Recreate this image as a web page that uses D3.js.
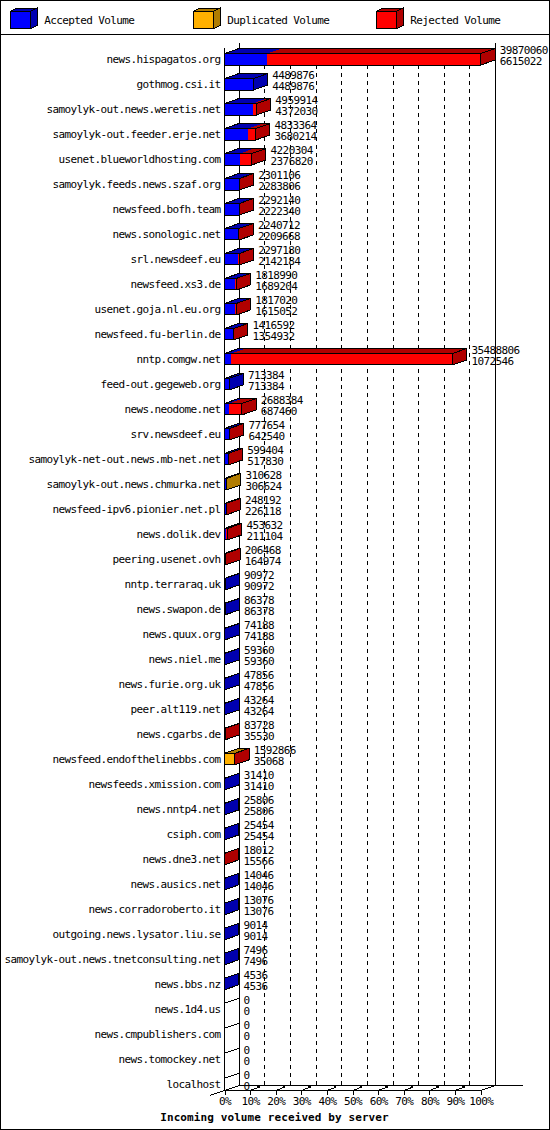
<!DOCTYPE html>
<html>
<head>
<meta charset="utf-8">
<script src="https://cdn.jsdelivr.net/npm/d3@7"></script>
<style>
  html, body { margin: 0; padding: 0; background: #fff; }
  svg { display: block; }
  text { font-family: "DejaVu Sans Mono", monospace; font-size: 11px; letter-spacing: -0.62px; fill: #000; }
</style>
</head>
<body>
<div id="chart"></div>
<script>
const hosts = [
  "news.hispagatos.org", "gothmog.csi.it", "samoylyk-out.news.weretis.net",
  "samoylyk-out.feeder.erje.net", "usenet.blueworldhosting.com", "samoylyk.feeds.news.szaf.org",
  "newsfeed.bofh.team", "news.sonologic.net", "srl.newsdeef.eu", "newsfeed.xs3.de",
  "usenet.goja.nl.eu.org", "newsfeed.fu-berlin.de", "nntp.comgw.net", "feed-out.gegeweb.org",
  "news.neodome.net", "srv.newsdeef.eu", "samoylyk-net-out.news.mb-net.net",
  "samoylyk-out.news.chmurka.net", "newsfeed-ipv6.pionier.net.pl", "news.dolik.dev",
  "peering.usenet.ovh", "nntp.terraraq.uk", "news.swapon.de", "news.quux.org", "news.niel.me",
  "news.furie.org.uk", "peer.alt119.net", "news.cgarbs.de", "newsfeed.endofthelinebbs.com",
  "newsfeeds.xmission.com", "news.nntp4.net", "csiph.com", "news.dne3.net", "news.ausics.net",
  "news.corradoroberto.it", "outgoing.news.lysator.liu.se", "samoylyk-out.news.tnetconsulting.net",
  "news.bbs.nz", "news.1d4.us", "news.cmpublishers.com", "news.tomockey.net", "localhost"
];

// top number next to each bar
const totalVolume = [
  39870060, 4489876, 4959914, 4833364, 4220304, 2301106, 2292140, 2240712, 2297180, 1818990,
  1817020, 1416592, 35488806, 713384, 2688384, 777654, 599404, 310628, 248192, 453632,
  206468, 90972, 86378, 74188, 59360, 47856, 43264, 83728, 1592866, 31410,
  25806, 25454, 18012, 14046, 13076, 9014, 7496, 4536, 0, 0, 0, 0
];

// bottom number next to each bar
const acceptedVolume = [
  6615022, 4489876, 4372030, 3680214, 2376820, 2283806, 2222340, 2209668, 2142184, 1689204,
  1615052, 1354932, 1072546, 713384, 687460, 642540, 517830, 306624, 226118, 211104,
  164974, 90972, 86378, 74188, 59360, 47856, 43264, 35530, 35068, 31410,
  25806, 25454, 15566, 14046, 13076, 9014, 7496, 4536, 0, 0, 0, 0
];

// estimated from the yellow parts (only two hosts show duplicates)
const duplicatedVolume = [
  0, 0, 0, 0, 0, 0, 0, 0, 0, 0,
  0, 0, 0, 0, 0, 0, 0, 4004, 0, 0,
  0, 0, 0, 0, 0, 0, 0, 0, 1540000, 0,
  0, 0, 0, 0, 0, 0, 0, 0, 0, 0, 0, 0
];

const tickPercents = [0, 10, 20, 30, 40, 50, 60, 70, 80, 90, 100];
const legendLabels = ["Accepted Volume", "Duplicated Volume", "Rejected Volume"];
const chartTitle = "Incoming volume received by server";

const W = 550, H = 1130;
const X0 = 224.5, X1 = 480.7;      // front plane 0% .. 100%
const WD = 14.8, WDY = 5;          // wall depth
const BD = 14.3, BDY = 5;          // bar depth
const barH = 11.5;
const wallTop = 42.8, floorFront = 1090.5, floorBack = floorFront - WDY;

const keys = ["accepted", "duplicated", "rejected"];
const frontColor = { accepted: "#0000ff", duplicated: "#ffb000", rejected: "#ff0000" };
const darkColor = { accepted: "#0000b0", duplicated: "#b07c00", rejected: "#b00000" };

const table = hosts.map((h, i) => ({
  host: h,
  total: totalVolume[i],
  accepted: acceptedVolume[i],
  duplicated: duplicatedVolume[i],
  rejected: totalVolume[i] - acceptedVolume[i] - duplicatedVolume[i]
}));

const svg = d3.select("#chart").append("svg")
  .attr("width", W).attr("height", H)
  .attr("shape-rendering", "crispEdges");

svg.append("rect")
  .attr("x", 0.5).attr("y", 0.5).attr("width", W - 1).attr("height", H - 1)
  .attr("fill", "#fff").attr("stroke", "#000");

// Legend
svg.append("line")
  .attr("x1", 0).attr("x2", W).attr("y1", 34.5).attr("y2", 34.5)
  .attr("stroke", "#000");

const legend = svg.selectAll("g.legend")
  .data(keys)
  .join("g")
    .attr("class", "legend")
    .attr("transform", (d, i) => `translate(${10.7 + i * 183}, 11.3)`);

legend.append("path")
  .attr("d", "M0,0 L6.3,-3.3 L26.3,-3.3 L20,0 Z")
  .attr("fill", d => darkColor[d]).attr("stroke", "#000");
legend.append("path")
  .attr("d", "M20,0 L26.3,-3.3 L26.3,14.1 L20,17.4 Z")
  .attr("fill", d => darkColor[d]).attr("stroke", "#000");
legend.append("rect")
  .attr("width", 20).attr("height", 17.4)
  .attr("fill", d => frontColor[d]).attr("stroke", "#000");
legend.append("text")
  .attr("x", 33.6).attr("y", 8.7).attr("dy", "0.36em")
  .text((d, i) => legendLabels[i]);

// Scales
const x = d3.scaleLinear()
  .domain([0, d3.max(totalVolume)])
  .range([X0, X1]);

const pct = d3.scaleLinear()
  .domain([0, 100])
  .range([X0, X1]);

const y = d3.scalePoint()
  .domain(hosts)
  .range([59.3, 1084]);

// Back wall grid
const grid = svg.append("g");
grid.selectAll("line.grid")
  .data(tickPercents.filter(p => p > 0 && p < 100))
  .join("line")
    .attr("class", "grid")
    .attr("x1", p => pct(p) + WD).attr("x2", p => pct(p) + WD)
    .attr("y1", y(hosts[0]) + barH / 2).attr("y2", floorBack)
    .attr("stroke", "#000").attr("stroke-dasharray", "4,4");

grid.append("line")
  .attr("x1", X1 + WD).attr("x2", X1 + WD).attr("y1", wallTop).attr("y2", floorBack)
  .attr("stroke", "#000");
grid.append("line")
  .attr("x1", X0 + WD).attr("x2", X0 + WD).attr("y1", wallTop).attr("y2", floorBack)
  .attr("stroke", "#000");
grid.append("line")
  .attr("x1", X0).attr("x2", X0).attr("y1", wallTop + WDY).attr("y2", floorFront)
  .attr("stroke", "#000");

// Floor
grid.append("path")
  .attr("d", `M${X0},${floorFront} H${X1} L${X1 + WD},${floorBack}
              M${X0 + WD},${floorBack} H522.7
              M${X0 - WD},${floorFront + WDY} L${X0 + WD},${floorBack}`)
  .attr("fill", "none").attr("stroke", "#000");

// Bars (stacked 3D boxes)
const series = d3.stack().keys(keys)(table);

const bars = svg.append("g");
series.forEach(s => {
  const segs = s.filter(d => d[1] > d[0]);
  const g = bars.append("g");
  g.selectAll("rect")
    .data(segs)
    .join("rect")
      .attr("x", d => x(d[0]))
      .attr("y", d => y(d.data.host) - barH / 2)
      .attr("width", d => x(d[1]) - x(d[0]))
      .attr("height", barH)
      .attr("fill", frontColor[s.key]);
  g.selectAll("path.top")
    .data(segs)
    .join("path")
      .attr("class", "top")
      .attr("d", d => {
        const a = x(d[0]), b = x(d[1]), t = y(d.data.host) - barH / 2;
        return `M${a},${t} L${a + BD},${t - BDY} L${b + BD},${t - BDY} L${b},${t} Z`;
      })
      .attr("fill", darkColor[s.key]);
  g.selectAll("path.side")
    .data(segs)
    .join("path")
      .attr("class", "side")
      .attr("d", d => {
        const b = x(d[1]), t = y(d.data.host) - barH / 2, u = t + barH;
        return `M${b},${t} L${b + BD},${t - BDY} L${b + BD},${u - BDY} L${b},${u} Z`;
      })
      .attr("fill", darkColor[s.key]);
});

// Outlines of each whole bar
bars.selectAll("path.outline")
  .data(table)
  .join("path")
    .attr("class", "outline")
    .attr("d", d => {
      const a = x(0), b = x(d.total), t = y(d.host) - barH / 2, u = t + barH;
      if (d.total === 0) return `M${a},${t} L${a + BD},${t - BDY}`;
      return `M${a},${t} H${b} V${u} H${a} Z
              M${a},${t} L${a + BD},${t - BDY} H${b + BD} L${b},${t}
              M${b + BD},${t - BDY} V${u - BDY} L${b},${u}`;
    })
    .attr("fill", "none").attr("stroke", "#000");

// Host labels
svg.append("g")
  .selectAll("text")
  .data(hosts)
  .join("text")
    .attr("x", 220.5)
    .attr("y", d => y(d))
    .attr("dy", "0.36em")
    .attr("text-anchor", "end")
    .text(d => d);

// Value labels
const vals = svg.append("g")
  .selectAll("g")
  .data(table)
  .join("g")
    .attr("transform", d => `translate(${x(d.total) + 19}, ${y(d.host)})`);
vals.append("text").attr("y", -9).attr("dy", "0.36em").text(d => d.total);
vals.append("text").attr("y", 2).attr("dy", "0.36em").text(d => d.accepted);

// Percent axis on the floor
const axis = svg.append("g")
  .attr("transform", `translate(0, ${floorFront})`)
  .call(d3.axisBottom(pct).tickValues(tickPercents).tickSize(4).tickSizeOuter(0).tickFormat(d => d + "%"));
axis.select(".domain").remove();
axis.attr("font-family", null).attr("font-size", null);
axis.selectAll("line").attr("stroke", "#000");
axis.selectAll("text").attr("fill", "#000");

const stubs = svg.append("g");
stubs.selectAll("line")
  .data(tickPercents.filter(p => p > 0 && p < 100))
  .join("line")
    .attr("x1", p => pct(p)).attr("y1", floorFront)
    .attr("x2", p => pct(p) + 8).attr("y2", floorFront - 3)
    .attr("stroke", "#000");
stubs.selectAll("rect")
  .data(tickPercents.filter(p => p > 0 && p < 100))
  .join("rect")
    .attr("x", p => pct(p) + 7).attr("y", floorBack)
    .attr("width", 2.5).attr("height", 2)
    .attr("fill", "#000");

svg.append("text")
  .attr("x", 274.5).attr("y", 1117).attr("dy", "0.36em")
  .attr("text-anchor", "middle")
  .style("font-weight", "bold")
  .style("letter-spacing", "0.1px")
  .text(chartTitle);
</script>
</body>
</html>
